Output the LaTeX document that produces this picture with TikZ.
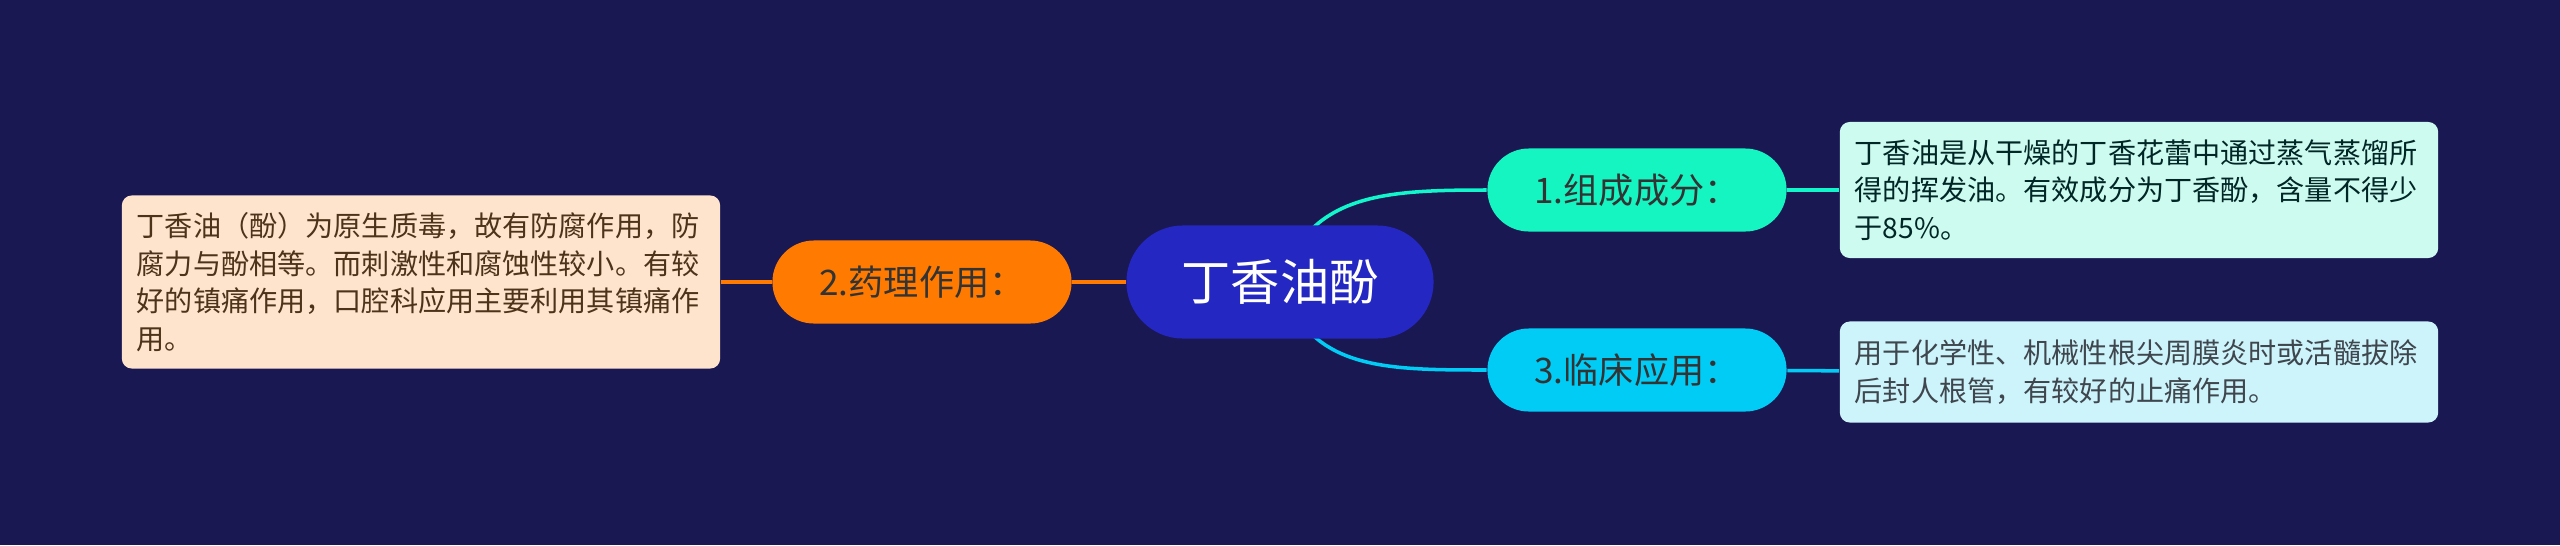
\documentclass[tikz,border=0pt]{standalone}
\usepackage{fontspec}
\setmainfont{Noto Sans CJK SC}
\definecolor{bgnavy}{HTML}{1A1852}
\definecolor{rootblue}{HTML}{2527C3}
\definecolor{pharmorange}{HTML}{FF7A00}
\definecolor{compteal}{HTML}{14F5C2}
\definecolor{clincyan}{HTML}{00CCF5}
\definecolor{peach}{HTML}{FFE4CD}
\definecolor{mint}{HTML}{CEFBEF}
\definecolor{icecyan}{HTML}{CDF3FB}
\pgfdeclarelayer{bg}
\pgfsetlayers{bg,main}
\tikzset{
  pill/.style={rounded corners=0.415cm, minimum width=2.99cm, minimum height=0.83cm,
    font=\fontsize{10}{12}\selectfont, text=black!80},
  infobox/.style={rounded corners=0.1cm, minimum width=5.98cm, text width=5.68cm,
    align=left, inner sep=0pt, font=\fontsize{8}{10.7}\selectfont},
  link/.style={line width=1pt}
}
\begin{document}
\begin{tikzpicture}[x=0.01cm,y=-0.01cm]
    \begin{pgfonlayer}{bg}
    \fill[bgnavy] (0,0) rectangle (2560,545);
    \end{pgfonlayer}
    \useasboundingbox (0,0) rectangle (2560,545);
    \node[fill=rootblue, rounded corners=0.565cm, minimum width=3.07cm, minimum height=1.13cm,
      text=white, font=\fontsize{14}{16}\selectfont] (root) at (1280,282) {丁香油酚};
    \node[pill, fill=pharmorange] (pharm) at (922,282) {2.药理作用：};
    \node[pill, fill=compteal] (comp) at (1637,190) {1.组成成分：};
    \node[pill, fill=clincyan] (clin) at (1637,370) {3.临床应用：};
    \node[infobox, fill=peach, minimum height=1.73cm, text=brown!40!black] (pharmtxt) at (421,282) {丁香油（酚）为原生质毒，故有防腐作用，防\\腐力与酚相等。而刺激性和腐蚀性较小。有较\\好的镇痛作用，口腔科应用主要利用其镇痛作\\用。};
    \node[infobox, fill=mint, minimum height=1.36cm, text=teal!30!black] (comptxt) at (2139,190) {丁香油是从干燥的丁香花蕾中通过蒸气蒸馏所\\得的挥发油。有效成分为丁香酚，含量不得少\\于85\%。};
    \node[infobox, fill=icecyan, minimum height=1.01cm, text=cyan!20!black] (clintxt) at (2139,372) {用于化学性、机械性根尖周膜炎时或活髓拔除\\后封人根管，有较好的止痛作用。};
    \begin{pgfonlayer}{bg}
    \draw[link, pharmorange] (root) -- (pharm);
    \draw[link, pharmorange] (pharm) -- (pharmtxt);
    \draw[link, compteal!85!cyan] (root.center) .. controls +(30,-87) and +(-107,0) .. (comp.west);
    \draw[link, compteal!85!cyan] (comp) -- (comptxt);
    \draw[link, clincyan] (root.center) .. controls +(30,87) and +(-107,0) .. (clin.west);
    \draw[link, clincyan] (clin) -- (clintxt);
    \end{pgfonlayer}
\end{tikzpicture}
\end{document}
